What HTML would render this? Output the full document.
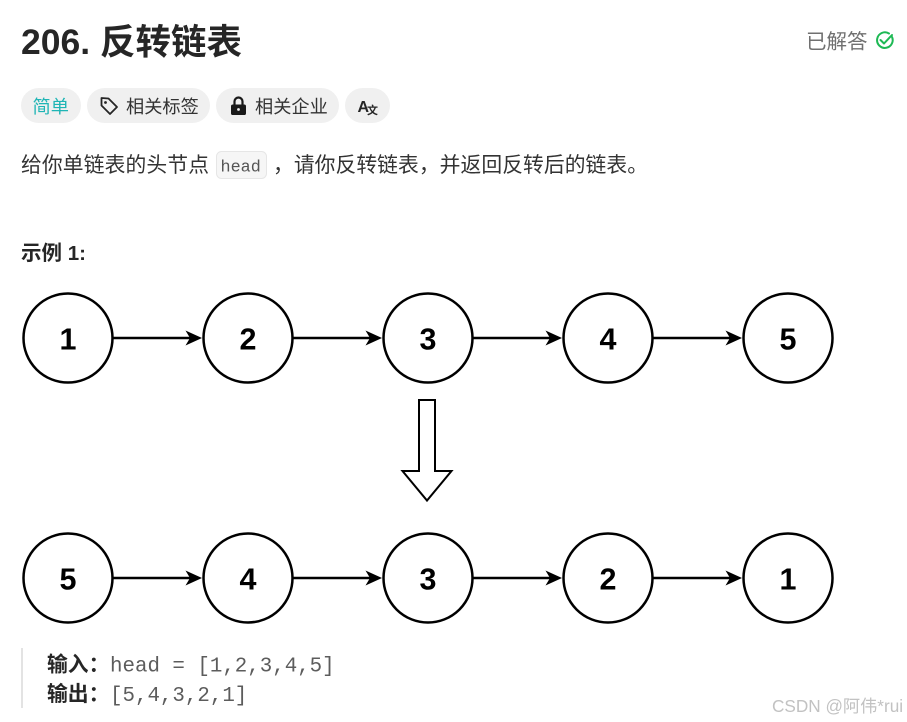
<!DOCTYPE html>
<html>
<head>
<meta charset="utf-8">
<style>
  html, body { margin: 0; padding: 0; background: #ffffff; }
  body { width: 907px; height: 722px; overflow: hidden; }
  svg { display: block; }
  .cjk { font-family: "Liberation Sans", "Noto Sans CJK SC", sans-serif; }
  .mono { font-family: "Liberation Mono", "DejaVu Sans Mono", monospace; }
</style>
</head>
<body>
<svg width="907" height="722" viewBox="0 0 907 722" xmlns="http://www.w3.org/2000/svg">
  <rect x="0" y="0" width="907" height="722" fill="#ffffff"/>

  <!-- Title -->
  <text x="21" y="54" class="cjk" font-size="35.5" font-weight="bold" fill="#262626">206. 反转链表</text>

  <!-- Solved -->
  <text x="806" y="48.5" class="cjk" font-size="20.5" fill="#707070">已解答</text>
  <g fill="none" stroke="#1db954" stroke-width="2" stroke-linecap="round" stroke-linejoin="round">
    <path d="M 891.5 36 A 7.8 7.8 0 1 1 889 33.5"/>
    <path d="M 880.5 40 L 884 43.5 L 892 35"/>
  </g>

  <!-- Pills -->
  <rect x="21" y="88" width="60" height="35" rx="17.5" fill="#f0f0f0"/>
  <text x="32.5" y="113" class="cjk" font-size="18.2" fill="#1fb5b5">简单</text>

  <rect x="87" y="88" width="123" height="35" rx="17.5" fill="#f0f0f0"/>
  <g fill="none" stroke="#262626" stroke-width="1.8" stroke-linejoin="round">
    <path d="M 101.5 98 L 101.5 105.5 L 110 114 L 117 107 L 108.5 98.5 Z"/>
  </g>
  <circle cx="105.5" cy="102.5" r="1.4" fill="#262626"/>
  <text x="126" y="113" class="cjk" font-size="18.2" fill="#333333">相关标签</text>

  <rect x="216" y="88" width="123" height="35" rx="17.5" fill="#f0f0f0"/>
  <path d="M 234.5 105 L 234.5 101.5 A 4 4 0 0 1 242.5 101.5 L 242.5 105" fill="none" stroke="#1a1a1a" stroke-width="2.2"/>
  <rect x="231" y="104.5" width="15" height="10.5" rx="1.8" fill="#1a1a1a"/>
  <circle cx="238.5" cy="109.5" r="1.4" fill="#f0f0f0"/>
  <text x="255" y="113" class="cjk" font-size="18.2" fill="#333333">相关企业</text>

  <rect x="345" y="88" width="45" height="35" rx="17.5" fill="#f0f0f0"/>
  <text x="357.5" y="112" class="cjk" font-size="16" font-weight="bold" fill="#262626">A</text>
  <text x="367" y="114" class="cjk" font-size="11" font-weight="bold" fill="#262626">文</text>

  <!-- Description -->
  <text x="21" y="172" class="cjk" font-size="20.8" fill="#333333" textLength="188" lengthAdjust="spacing">给你单链表的头节点</text>
  <rect x="216.5" y="151.5" width="50" height="27" rx="5" fill="#f6f6f6" stroke="#e6e6e6" stroke-width="1"/>
  <text x="220.5" y="171.5" class="mono" font-size="16.8" fill="#555555">head</text>
  <text x="273" y="172" class="cjk" font-size="20.8" fill="#333333" textLength="375" lengthAdjust="spacing">，请你反转链表，并返回反转后的链表。</text>

  <!-- Example heading -->
  <text x="21" y="260" class="cjk" font-size="20.5" font-weight="bold" fill="#262626">示例 1:</text>

  <!-- Diagram row 1 -->
  <g fill="#ffffff" stroke="#000000" stroke-width="2.5">
    <circle cx="68" cy="338" r="44.5"/>
    <circle cx="248" cy="338" r="44.5"/>
    <circle cx="428" cy="338" r="44.5"/>
    <circle cx="608" cy="338" r="44.5"/>
    <circle cx="788" cy="338" r="44.5"/>
  </g>
  <g stroke="#000000" stroke-width="2.6">
    <line x1="113" y1="338" x2="192" y2="338"/>
    <line x1="293" y1="338" x2="372" y2="338"/>
    <line x1="473" y1="338" x2="552" y2="338"/>
    <line x1="653" y1="338" x2="732" y2="338"/>
  </g>
  <g fill="#000000">
    <polygon points="202,338 185.5,330.5 190,338 185.5,345.5"/>
    <polygon points="382,338 365.5,330.5 370,338 365.5,345.5"/>
    <polygon points="562,338 545.5,330.5 550,338 545.5,345.5"/>
    <polygon points="742,338 725.5,330.5 730,338 725.5,345.5"/>
  </g>
  <g font-family="Liberation Sans, Arial, sans-serif" font-size="30.5" font-weight="bold" fill="#000000" text-anchor="middle">
    <text x="68" y="349.5">1</text>
    <text x="248" y="349.5">2</text>
    <text x="428" y="349.5">3</text>
    <text x="608" y="349.5">4</text>
    <text x="788" y="349.5">5</text>
  </g>

  <!-- Big down arrow -->
  <polygon points="419,400 435,400 435,471 451.5,471 427,500.5 402.5,471 419,471" fill="#ffffff" stroke="#000000" stroke-width="2" stroke-linejoin="miter"/>

  <!-- Diagram row 2 -->
  <g fill="#ffffff" stroke="#000000" stroke-width="2.5">
    <circle cx="68" cy="578" r="44.5"/>
    <circle cx="248" cy="578" r="44.5"/>
    <circle cx="428" cy="578" r="44.5"/>
    <circle cx="608" cy="578" r="44.5"/>
    <circle cx="788" cy="578" r="44.5"/>
  </g>
  <g stroke="#000000" stroke-width="2.6">
    <line x1="113" y1="578" x2="192" y2="578"/>
    <line x1="293" y1="578" x2="372" y2="578"/>
    <line x1="473" y1="578" x2="552" y2="578"/>
    <line x1="653" y1="578" x2="732" y2="578"/>
  </g>
  <g fill="#000000">
    <polygon points="202,578 185.5,570.5 190,578 185.5,585.5"/>
    <polygon points="382,578 365.5,570.5 370,578 365.5,585.5"/>
    <polygon points="562,578 545.5,570.5 550,578 545.5,585.5"/>
    <polygon points="742,578 725.5,570.5 730,578 725.5,585.5"/>
  </g>
  <g font-family="Liberation Sans, Arial, sans-serif" font-size="30.5" font-weight="bold" fill="#000000" text-anchor="middle">
    <text x="68" y="589.5">5</text>
    <text x="248" y="589.5">4</text>
    <text x="428" y="589.5">3</text>
    <text x="608" y="589.5">2</text>
    <text x="788" y="589.5">1</text>
  </g>

  <!-- Output block -->
  <rect x="21" y="648" width="2" height="60" fill="#e3e3e3"/>
  <text x="47" y="671.5" class="cjk" font-size="20.8" font-weight="bold" fill="#262626">输入：</text>
  <text x="110" y="671.5" class="mono" font-size="20.8" fill="#5c5c5c">head = [1,2,3,4,5]</text>
  <text x="47" y="701" class="cjk" font-size="20.8" font-weight="bold" fill="#262626">输出：</text>
  <text x="110" y="701" class="mono" font-size="20.8" fill="#5c5c5c">[5,4,3,2,1]</text>

  <!-- Watermark -->
  <text x="772" y="712" class="cjk" font-size="17.2" fill="#c2c2c2">CSDN @阿伟*rui</text>
</svg>
</body>
</html>
